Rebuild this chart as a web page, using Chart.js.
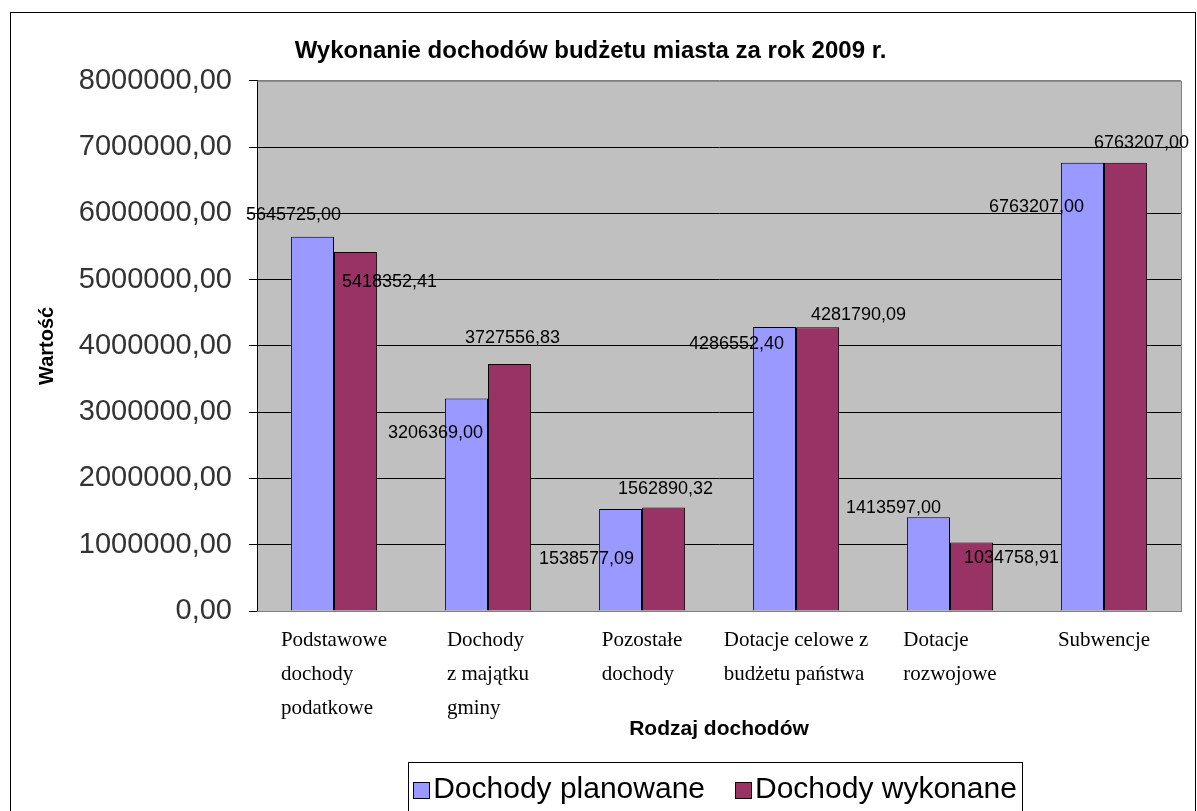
<!DOCTYPE html>
<html>
<head>
<meta charset="utf-8">
<script src="https://cdn.jsdelivr.net/npm/chart.js@4.4.1/dist/chart.umd.min.js"></script>
<style>
  html, body { margin: 0; padding: 0; background: #fff; }
  #wrap { width: 1197px; height: 811px; position: relative; }
</style>
</head>
<body>
<div id="wrap"><canvas id="graph"></canvas></div>
<script>
// categories and values
const categories = [
    ['Podstawowe', 'dochody', 'podatkowe'],
    ['Dochody', 'z majątku', 'gminy'],
    ['Pozostałe', 'dochody'],
    ['Dotacje celowe z', 'budżetu państwa'],
    ['Dotacje', 'rozwojowe'],
    ['Subwencje']
];
const planned = [5645725.00, 3206369.00, 1538577.09, 4286552.40, 1413597.00, 6763207.00];
const executed = [5418352.41, 3727556.83, 1562890.32, 4281790.09, 1034758.91, 6763207.00];
const yMin = 0;
const yMax = 8000000;
const yStep = 1000000;

// where each value label sits relative to its bar top (Excel put them a bit randomly)
const plannedLabelShift = [[-19, -22], [-31, 35], [-34, 50], [-38, 17], [-35, -9], [-46, 44]];
const executedLabelShift = [[34, 30], [3, -26], [2, -18], [41, -12], [40, 16], [16, -20]];

const fmt = v => v.toFixed(2).replace('.', ',');
const sans = '"Liberation Sans", Arial, sans-serif';
const serif = '"Liberation Serif", "Times New Roman", serif';

// gray plot background, outer frame, plot border
const frame = {
    id: 'frame',
    beforeDraw(chart) {
        const {ctx, chartArea: a} = chart;
        ctx.save();
        ctx.fillStyle = '#C0C0C0';
        ctx.fillRect(a.left, a.top, a.right - a.left, a.bottom - a.top);
        ctx.strokeStyle = '#000';
        ctx.lineWidth = 1;
        ctx.strokeRect(10.5, 12.5, 1185, 900);
        ctx.restore();
    },
    beforeDatasetsDraw(chart) {
        const {ctx, chartArea: a} = chart;
        ctx.save();
        ctx.strokeStyle = '#808080';
        ctx.lineWidth = 1;
        ctx.beginPath();
        ctx.moveTo(a.left, a.top + 0.5);
        ctx.lineTo(a.right + 0.5, a.top + 0.5);
        ctx.lineTo(a.right + 0.5, a.bottom + 0.5);
        ctx.lineTo(a.left, a.bottom + 0.5);
        ctx.stroke();
        ctx.restore();
    }
};

// x labels: each block centred under its category, lines left aligned
const xLabels = {
    id: 'xLabels',
    afterDraw(chart) {
        const ctx = chart.ctx;
        const x = chart.scales.x;
        ctx.save();
        ctx.font = '21px ' + serif;
        ctx.fillStyle = '#000';
        ctx.textAlign = 'left';
        ctx.textBaseline = 'middle';
        chart.data.labels.forEach((lines, i) => {
            const w = Math.max(...lines.map(l => ctx.measureText(l).width));
            const left = x.getPixelForTick(i) - w / 2;
            lines.forEach((l, j) => ctx.fillText(l, left, x.top + 29 + j * 34));
        });
        ctx.restore();
    }
};

// boxed legend like the Excel one
const boxLegend = {
    id: 'boxLegend',
    afterDraw(chart) {
        const ctx = chart.ctx;
        const sets = chart.data.datasets;
        ctx.save();
        ctx.font = '30px ' + sans;
        ctx.textBaseline = 'middle';
        ctx.textAlign = 'left';
        const box = 16, gap = 4, between = 30;
        const widths = sets.map(s => box + gap + ctx.measureText(s.label).width);
        const total = widths.reduce((a, b) => a + b, 0) + between * (sets.length - 1);
        const cx = 715, cy = 790;
        let xPos = cx - total / 2;
        ctx.strokeStyle = '#000';
        ctx.lineWidth = 1;
        ctx.strokeRect(Math.round(xPos - 5) + 0.5, 762.5, Math.round(total + 10), 100);
        sets.forEach((s, i) => {
            ctx.fillStyle = s.backgroundColor;
            ctx.fillRect(Math.round(xPos) + 0.5, cy - 8 + 0.5, box, box);
            ctx.strokeRect(Math.round(xPos) + 0.5, cy - 8 + 0.5, box, box);
            ctx.fillStyle = '#000';
            ctx.fillText(s.label, xPos + box + gap, cy);
            xPos += widths[i] + between;
        });
        ctx.restore();
    }
};

// value labels on the bars
const valueLabels = {
    id: 'valueLabels',
    afterDatasetsDraw(chart) {
        const ctx = chart.ctx;
        const shifts = [plannedLabelShift, executedLabelShift];
        ctx.save();
        ctx.font = '18px ' + sans;
        ctx.fillStyle = '#000';
        ctx.textAlign = 'center';
        ctx.textBaseline = 'middle';
        chart.data.datasets.forEach((ds, d) => {
            chart.getDatasetMeta(d).data.forEach((bar, i) => {
                const s = shifts[d][i];
                ctx.fillText(fmt(ds.data[i]), bar.x + s[0], bar.y + s[1]);
            });
        });
        ctx.restore();
    }
};

const ctx1 = document.getElementById('graph').getContext('2d');
new Chart(ctx1, {
    type: 'bar',
    data: {
        labels: categories,
        datasets: [{
            label: 'Dochody planowane',
            data: planned,
            backgroundColor: '#9999FF',
            borderColor: '#000',
            borderWidth: 1
        }, {
            label: 'Dochody wykonane',
            data: executed,
            backgroundColor: '#993366',
            borderColor: '#000',
            borderWidth: 1
        }]
    },
    options: {
        responsive: true,
        maintainAspectRatio: false,
        animation: false,
        datasets: {
            bar: { categoryPercentage: 0.56, barPercentage: 1.0 }
        },
        layout: { padding: { left: 0, right: 16, top: 0, bottom: 64 } },
        plugins: {
            title: {
                display: true,
                text: 'Wykonanie dochodów budżetu miasta za rok 2009 r.',
                color: '#000',
                font: { family: sans, size: 24, weight: 'bold' },
                padding: { top: 37, bottom: 15 }
            },
            legend: { display: false },
            tooltip: { enabled: false }
        },
        scales: {
            x: {
                grid: { display: false, drawTicks: false },
                border: { color: '#808080' },
                ticks: {
                    color: 'transparent',
                    font: { family: serif, size: 21, lineHeight: 1.62 },
                    padding: 12,
                    maxRotation: 0,
                    autoSkip: false
                },
                title: {
                    display: true,
                    text: 'Rodzaj dochodów',
                    color: '#000',
                    font: { family: sans, size: 21, weight: 'bold' },
                    padding: { top: 0, bottom: 5 }
                },
                afterFit(scale) { scale.height = 136; }
            },
            y: {
                min: yMin,
                max: yMax,
                grid: {
                    color: c => (c.index === 0 || c.index === 8) ? '#808080' : '#000',
                    tickColor: '#000',
                    tickLength: 8,
                    lineWidth: 1
                },
                border: { color: '#000' },
                ticks: {
                    stepSize: yStep,
                    color: '#333',
                    padding: 17,
                    font: { family: sans, size: 29 },
                    callback: v => fmt(v)
                },
                title: {
                    display: true,
                    text: 'Wartość',
                    color: '#000',
                    font: { family: sans, size: 20, weight: 'bold' },
                    padding: { top: 35, bottom: 0 }
                },
                afterFit(scale) { scale.width = 257; }
            }
        }
    },
    plugins: [frame, valueLabels, xLabels, boxLegend]
});
</script>
</body>
</html>
